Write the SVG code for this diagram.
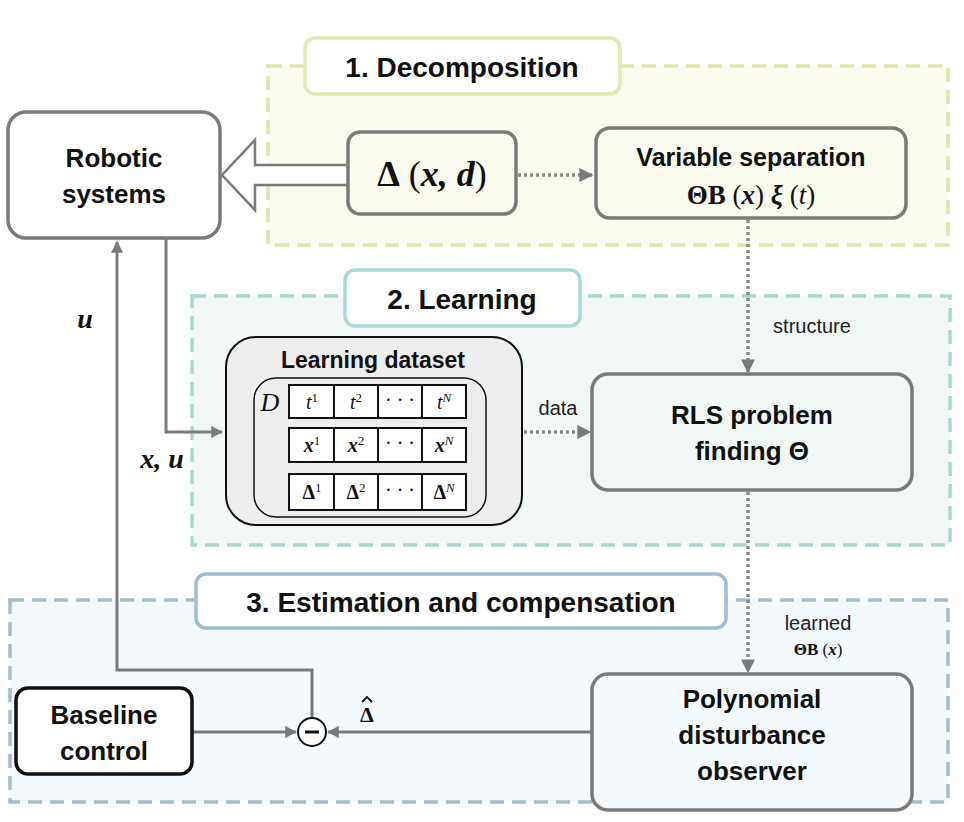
<svg xmlns="http://www.w3.org/2000/svg" width="964" height="822" viewBox="0 0 964 822">
<defs>
<marker id="ah" viewBox="0 0 10 10" refX="9" refY="5" markerWidth="4" markerHeight="4" orient="auto"><path d="M0,0 L10,5 L0,10 z" fill="#7a7a7a"/></marker>
<style>
.t{font-family:"Liberation Sans",Arial,sans-serif;font-weight:bold;fill:#111;text-anchor:middle}
.m{font-family:"Liberation Serif","Times New Roman",serif;fill:#111;text-anchor:middle}
.n{font-family:"Liberation Sans",Arial,sans-serif;fill:#222;text-anchor:middle;font-size:20px}
.box{fill:#fff;stroke:#7a7a7a;stroke-width:3.5}
.ln{fill:none;stroke:#7a7a7a;stroke-width:3}
.dot{fill:none;stroke:#8a8a8a;stroke-width:3.5;stroke-dasharray:3,3}
.cell{fill:#fff;stroke:#111;stroke-width:2}
</style>
</defs>
<g id="regions">
<rect x="268" y="66" width="680" height="179" fill="#fbfcef" stroke="#dfe6a8" stroke-width="3.5" stroke-dasharray="14,8"/>
<rect x="192" y="296" width="758" height="249" fill="#f0f7f5" stroke="#a9d8d3" stroke-width="3.5" stroke-dasharray="14,8"/>
<rect x="10" y="600" width="938" height="202" fill="#f3f9fd" stroke="#a5bccd" stroke-width="3.5" stroke-dasharray="14,8"/>
</g>
<g id="label1"><rect x="305" y="38" width="315" height="56" rx="10" fill="#fff" stroke="#e3e9b0" stroke-width="3.5"/><text class="t" x="462" y="77" font-size="28">1. Decomposition</text></g>
<g id="label2"><rect x="345" y="270" width="235" height="56" rx="10" fill="#fff" stroke="#a7dad6" stroke-width="3.5"/><text class="t" x="462" y="309" font-size="28">2. Learning</text></g>
<g id="label3"><rect x="196" y="574" width="530" height="54" rx="10" fill="#fff" stroke="#9fbcd0" stroke-width="3.5"/><text class="t" x="461" y="612" font-size="28">3. Estimation and compensation</text></g>
<g id="connectors">
<path d="M348,165 L255,165 L255,140 L222,175 L255,210 L255,185 L348,185" fill="#fff" stroke="#7a7a7a" stroke-width="2.5"/>
<line class="dot" x1="518" y1="175" x2="592" y2="175" marker-end="url(#ah)"/>
<line class="dot" x1="748" y1="220" x2="748" y2="372" marker-end="url(#ah)"/>
<line class="dot" x1="524" y1="432" x2="590" y2="432" marker-end="url(#ah)"/>
<line class="dot" x1="748" y1="492" x2="748" y2="672" marker-end="url(#ah)"/>
<polyline class="ln" points="166,238 166,432 222,432" marker-end="url(#ah)"/>
<polyline class="ln" points="312,718 312,670 117,670 117,242" marker-end="url(#ah)"/>
<line class="ln" x1="192" y1="732" x2="296" y2="732" marker-end="url(#ah)"/>
<line class="ln" x1="592" y1="732" x2="328" y2="732" marker-end="url(#ah)"/>
<text class="m" x="85" y="328" font-size="28" font-weight="bold" font-style="italic">u</text>
<text class="m" x="162" y="468" font-size="28" font-weight="bold" font-style="italic">x, u</text>
<text class="m" x="367" y="722" font-size="22" font-weight="bold">Δ</text>
<polyline points="362,702 367,697 372,702" fill="none" stroke="#111" stroke-width="1.8"/>
<text class="n" x="812" y="333">structure</text>
<text class="n" x="558" y="415">data</text>
<text class="n" x="818" y="630">learned</text>
<text class="m" x="818" y="655" font-size="17"><tspan font-weight="bold">ΘB</tspan> (<tspan font-style="italic" font-weight="bold">x</tspan>)</text>
</g>
<g id="robotic"><rect class="box" x="8" y="112" width="212" height="126" rx="18"/><text class="t" x="114" y="167" font-size="26">Robotic</text><text class="t" x="114" y="203" font-size="26">systems</text></g>
<g id="delta"><rect class="box" x="348" y="132" width="168" height="82" rx="12" style="fill:#fbfcef"/><text class="m" x="432" y="186" font-size="36"><tspan font-weight="bold">Δ</tspan> (<tspan font-style="italic" font-weight="bold">x, d</tspan>)</text></g>
<g id="varsep"><rect class="box" x="596" y="128" width="310" height="90" rx="14" style="fill:#fbfcef"/><text class="t" x="751" y="166" font-size="25">Variable separation</text><text class="m" x="751" y="204" font-size="27"><tspan font-weight="bold">ΘB</tspan> (<tspan font-style="italic" font-weight="bold">x</tspan>) <tspan font-weight="bold" font-style="italic">ξ</tspan> (<tspan font-style="italic">t</tspan>)</text></g>
<g id="dataset">
<rect x="226" y="337" width="296" height="188" rx="30" fill="#eeeeee" stroke="#111" stroke-width="2"/>
<text class="t" x="373" y="368" font-size="23">Learning dataset</text>
<rect x="254" y="378" width="232" height="139" rx="22" fill="none" stroke="#111" stroke-width="1.5"/>
<text class="m" x="270" y="411" font-size="26" font-style="italic">D</text>
<g>
<rect class="cell" x="289" y="385" width="45" height="33"/><rect class="cell" x="334" y="385" width="44" height="33"/><rect class="cell" x="378" y="385" width="44" height="33"/><rect class="cell" x="422" y="385" width="44" height="33"/>
<rect class="cell" x="289" y="428" width="45" height="34"/><rect class="cell" x="334" y="428" width="44" height="34"/><rect class="cell" x="378" y="428" width="44" height="34"/><rect class="cell" x="422" y="428" width="44" height="34"/>
<rect class="cell" x="289" y="474" width="45" height="36"/><rect class="cell" x="334" y="474" width="44" height="36"/><rect class="cell" x="378" y="474" width="44" height="36"/><rect class="cell" x="422" y="474" width="44" height="36"/>
</g>
<g class="m" font-size="20">
<text x="312" y="409" font-style="italic">t<tspan font-size="13" dy="-7" font-style="normal">1</tspan></text>
<text x="356" y="409" font-style="italic">t<tspan font-size="13" dy="-7" font-style="normal">2</tspan></text>
<text x="400" y="407">· · ·</text>
<text x="444" y="409" font-style="italic">t<tspan font-size="13" dy="-7">N</tspan></text>
<text x="312" y="452" font-style="italic" font-weight="bold">x<tspan font-size="13" dy="-7" font-style="normal" font-weight="normal">1</tspan></text>
<text x="356" y="452" font-style="italic" font-weight="bold">x<tspan font-size="13" dy="-7" font-style="normal" font-weight="normal">2</tspan></text>
<text x="400" y="450">· · ·</text>
<text x="444" y="452" font-style="italic" font-weight="bold">x<tspan font-size="13" dy="-7" font-weight="normal">N</tspan></text>
<text x="312" y="499" font-weight="bold">Δ<tspan font-size="13" dy="-7" font-weight="normal">1</tspan></text>
<text x="356" y="499" font-weight="bold">Δ<tspan font-size="13" dy="-7" font-weight="normal">2</tspan></text>
<text x="400" y="497">· · ·</text>
<text x="444" y="499" font-weight="bold">Δ<tspan font-size="13" dy="-7" font-weight="normal" font-style="italic">N</tspan></text>
</g>
</g>
<g id="rls"><rect class="box" x="592" y="374" width="320" height="116" rx="16" style="fill:#f0f7f5"/><text class="t" x="752" y="424" font-size="26">RLS problem</text><text class="t" x="752" y="460" font-size="26">finding Θ</text></g>
<g id="baseline"><rect x="16" y="688" width="176" height="86" rx="12" fill="#fff" stroke="#111" stroke-width="3.5"/><text class="t" x="104" y="724" font-size="26">Baseline</text><text class="t" x="104" y="760" font-size="26">control</text></g>
<g id="sum"><circle cx="312" cy="732" r="14" fill="#fff" stroke="#111" stroke-width="2"/><line x1="305" y1="732" x2="319" y2="732" stroke="#111" stroke-width="3"/></g>
<g id="pdo"><rect class="box" x="592" y="674" width="320" height="136" rx="16" style="fill:#f3f9fd"/><text class="t" x="752" y="708" font-size="26">Polynomial</text><text class="t" x="752" y="744" font-size="26">disturbance</text><text class="t" x="752" y="780" font-size="26">observer</text></g>
</svg>
